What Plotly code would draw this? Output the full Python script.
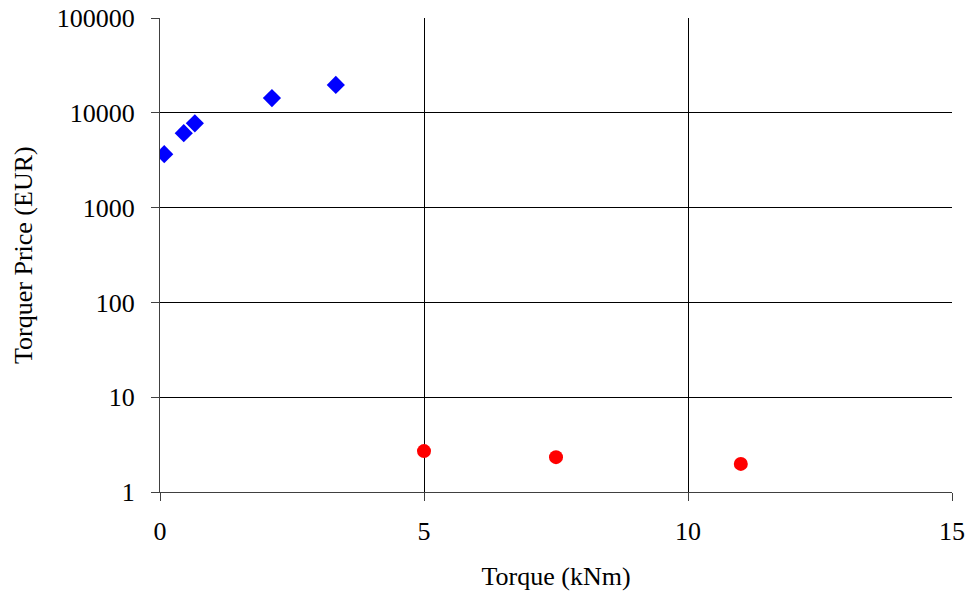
import plotly.graph_objects as go

blue_x = [0.08, 0.45, 0.66, 2.12, 3.33]
blue_y = [3660, 6100, 7750, 14300, 19700]
red_x = [5.0, 7.5, 11.0]
red_y = [2.7, 2.33, 1.98]

y_tickvals = [1, 10, 100, 1000, 10000, 100000]
y_ticktext = ["1", "10", "100", "1000", "10000", "100000"]
x_tickvals = [0, 5, 10, 15]

font = dict(family="Liberation Serif, Times New Roman, serif", size=26, color="black")

fig = go.Figure()
fig.add_trace(go.Scatter(x=blue_x, y=blue_y, mode="markers",
                         marker=dict(symbol="diamond", size=14, color="#0000ff")))
fig.add_trace(go.Scatter(x=red_x, y=red_y, mode="markers",
                         marker=dict(symbol="circle", size=14, color="#ff0000")))

fig.update_layout(
    width=968, height=596,
    margin=dict(l=160, r=16, t=18, b=104, autoexpand=False),
    paper_bgcolor="white", plot_bgcolor="white",
    showlegend=False, font=font,
    xaxis=dict(range=[0, 15], tickvals=x_tickvals, showgrid=True, gridcolor="black",
               gridwidth=1, zeroline=False, showline=True, linecolor="#404040",
               ticks="outside", ticklen=8, tickcolor="#404040",
               ticklabelstandoff=8, automargin=False, ticklabeloverflow="allow",
               title=dict(text="Torque (kNm)", standoff=21, font=font)),
    yaxis=dict(type="log", range=[0, 5], tickvals=y_tickvals, ticktext=y_ticktext,
               showgrid=True, gridcolor="black", gridwidth=1, zeroline=False,
               showline=True, linecolor="#404040", ticks="outside", ticklen=8,
               tickcolor="#404040", ticklabelstandoff=11, automargin=False,
               ticklabeloverflow="allow"),
    annotations=[dict(text="Torquer Price (EUR)", xref="paper", yref="paper",
                      x=(23 - 160) / 792, y=0.5, xanchor="center", yanchor="middle",
                      textangle=-90, showarrow=False, font=font)],
)
fig.write_html("out.html", config={"displayModeBar": False},
               post_script="document.body.style.margin='0';document.body.style.overflow='hidden';")
